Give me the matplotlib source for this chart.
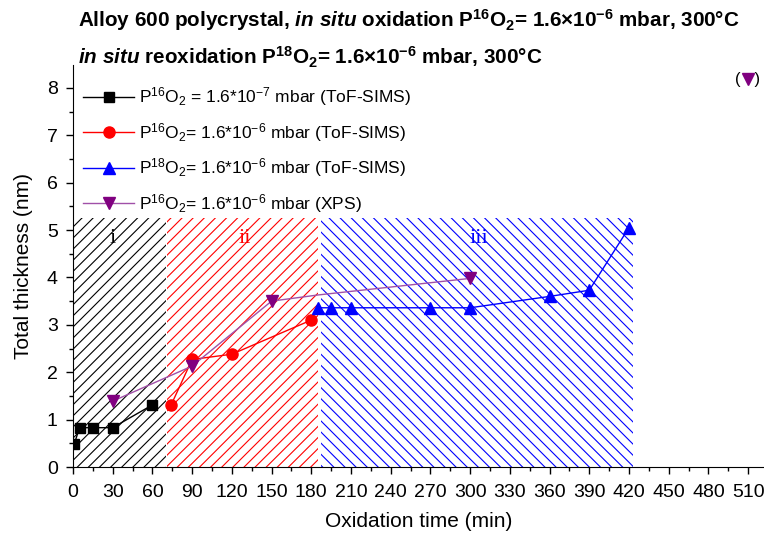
import matplotlib
matplotlib.use("Agg")
import matplotlib.pyplot as plt
from matplotlib.patches import Rectangle
from matplotlib.lines import Line2D
from matplotlib.ticker import MultipleLocator

plt.rcParams['font.family'] = ['Liberation Sans', 'DejaVu Sans']
plt.rcParams['mathtext.fontset'] = 'custom'
plt.rcParams['mathtext.rm'] = 'Liberation Sans'
plt.rcParams['mathtext.bf'] = 'Liberation Sans:bold'
plt.rcParams['mathtext.it'] = 'Liberation Sans:bold:italic'
plt.rcParams['hatch.linewidth'] = 0.8

# ---- data ----
t_black = [1, 5, 15, 30, 60]
y_black = [0.49, 0.83, 0.83, 0.83, 1.31]

t_red = [74, 90, 120, 180]
y_red = [1.30, 2.27, 2.38, 3.10]

t_blue = [185, 195, 210, 270, 300, 360, 390, 420]
y_blue = [3.36, 3.36, 3.36, 3.36, 3.36, 3.60, 3.73, 5.05]

t_purple = [30, 90, 150, 185, 300]
y_purple = [1.39, 2.13, 3.50, 3.63, 3.98]

regions = [(0, 70, 'black', '///'),
           (71, 185, 'red', '///'),
           (187, 423, 'blue', '\\\\\\')]
region_labels = ['i', 'ii', 'iii']
region_label_x = [30, 130, 307]
region_top = 5.25

labels = [r"P$^{16}$O$_2$ = 1.6*10$^{-7}$ mbar (ToF-SIMS)",
          r"P$^{16}$O$_2$= 1.6*10$^{-6}$ mbar (ToF-SIMS)",
          r"P$^{18}$O$_2$= 1.6*10$^{-6}$ mbar (ToF-SIMS)",
          r"P$^{16}$O$_2$= 1.6*10$^{-6}$ mbar (XPS)"]

fig = plt.figure(figsize=(7.64, 5.33), dpi=100)
ax = fig.add_axes([0.0955, 0.1238, 0.9045, 0.754])

for (x0, x1, c, h), lab, lx in zip(regions, region_labels, region_label_x):
    ax.add_patch(Rectangle((x0, 0), x1 - x0, region_top, facecolor='none',
                           edgecolor=c, hatch=h, linewidth=0, zorder=1))
    ax.text(lx, 4.83, lab, color=c, fontsize=16, family='Liberation Serif',
            ha='center', va='center', zorder=2)

l1, = ax.plot(t_black, y_black, '-s', color='black', ms=7, lw=1, zorder=3)
l2, = ax.plot(t_red, y_red, '-o', color='red', ms=8, lw=1, zorder=3)
l3, = ax.plot(t_blue, y_blue, '-^', color='blue', ms=8, lw=1, zorder=3)
ax.plot(t_purple, y_purple, '-', color='#a050a8', lw=1, zorder=3)
ax.plot([t_purple[i] for i in (0, 1, 2, 4)], [y_purple[i] for i in (0, 1, 2, 4)],
        'v', color='#800080', ms=9, zorder=4)
h4 = Line2D([], [], color='#a050a8', lw=1, marker='v', mfc='#800080',
            mec='#800080', ms=9)

leg = ax.legend([l1, l2, l3, h4], labels, loc='upper left',
                bbox_to_anchor=(0.0, 0.975), frameon=False, fontsize=12.5,
                handlelength=2.9, handletextpad=0.3, labelspacing=0.72,
                borderaxespad=0.2)

ax.set_xlim(0, 522)
ax.set_ylim(0, 8.48)
ax.xaxis.set_major_locator(MultipleLocator(30))
ax.xaxis.set_minor_locator(MultipleLocator(15))
ax.yaxis.set_major_locator(MultipleLocator(1))
ax.yaxis.set_minor_locator(MultipleLocator(0.5))
ax.tick_params(which='major', direction='out', length=5, width=1,
               labelsize=14)
ax.tick_params(axis='x', which='major', pad=7)
ax.tick_params(axis='y', which='major', pad=6)
ax.tick_params(which='minor', direction='out', length=3, width=1)
ax.spines['top'].set_visible(False)
ax.spines['right'].set_visible(False)
ax.set_xlabel('Oxidation time (min)', fontsize=15, labelpad=8)
ax.set_ylabel('Total thickness (nm)', fontsize=15, labelpad=10)

fig.text(0.102, 0.962,
         r"Alloy 600 polycrystal, $\mathit{in\ situ}$ oxidation P$^{\mathbf{16}}$O$_{\mathbf{2}}$= 1.6×10$^{\mathbf{-6}}$ mbar, 300°C",
         fontsize=14.9, fontweight='bold', ha='left', va='center')
fig.text(0.102, 0.893,
         r"$\mathit{in\ situ}$ reoxidation P$^{\mathbf{18}}$O$_{\mathbf{2}}$= 1.6×10$^{\mathbf{-6}}$ mbar, 300°C",
         fontsize=14.9, fontweight='bold', ha='left', va='center')

# stray symbol at top right
fig.text(0.979, 0.85, "(   )", fontsize=12, ha='center', va='center')
fig.lines.append(Line2D([0.979], [0.852], transform=fig.transFigure,
                        marker='v', color='#800080', ms=8, ls='none'))

fig.savefig('out.png', dpi=100)
